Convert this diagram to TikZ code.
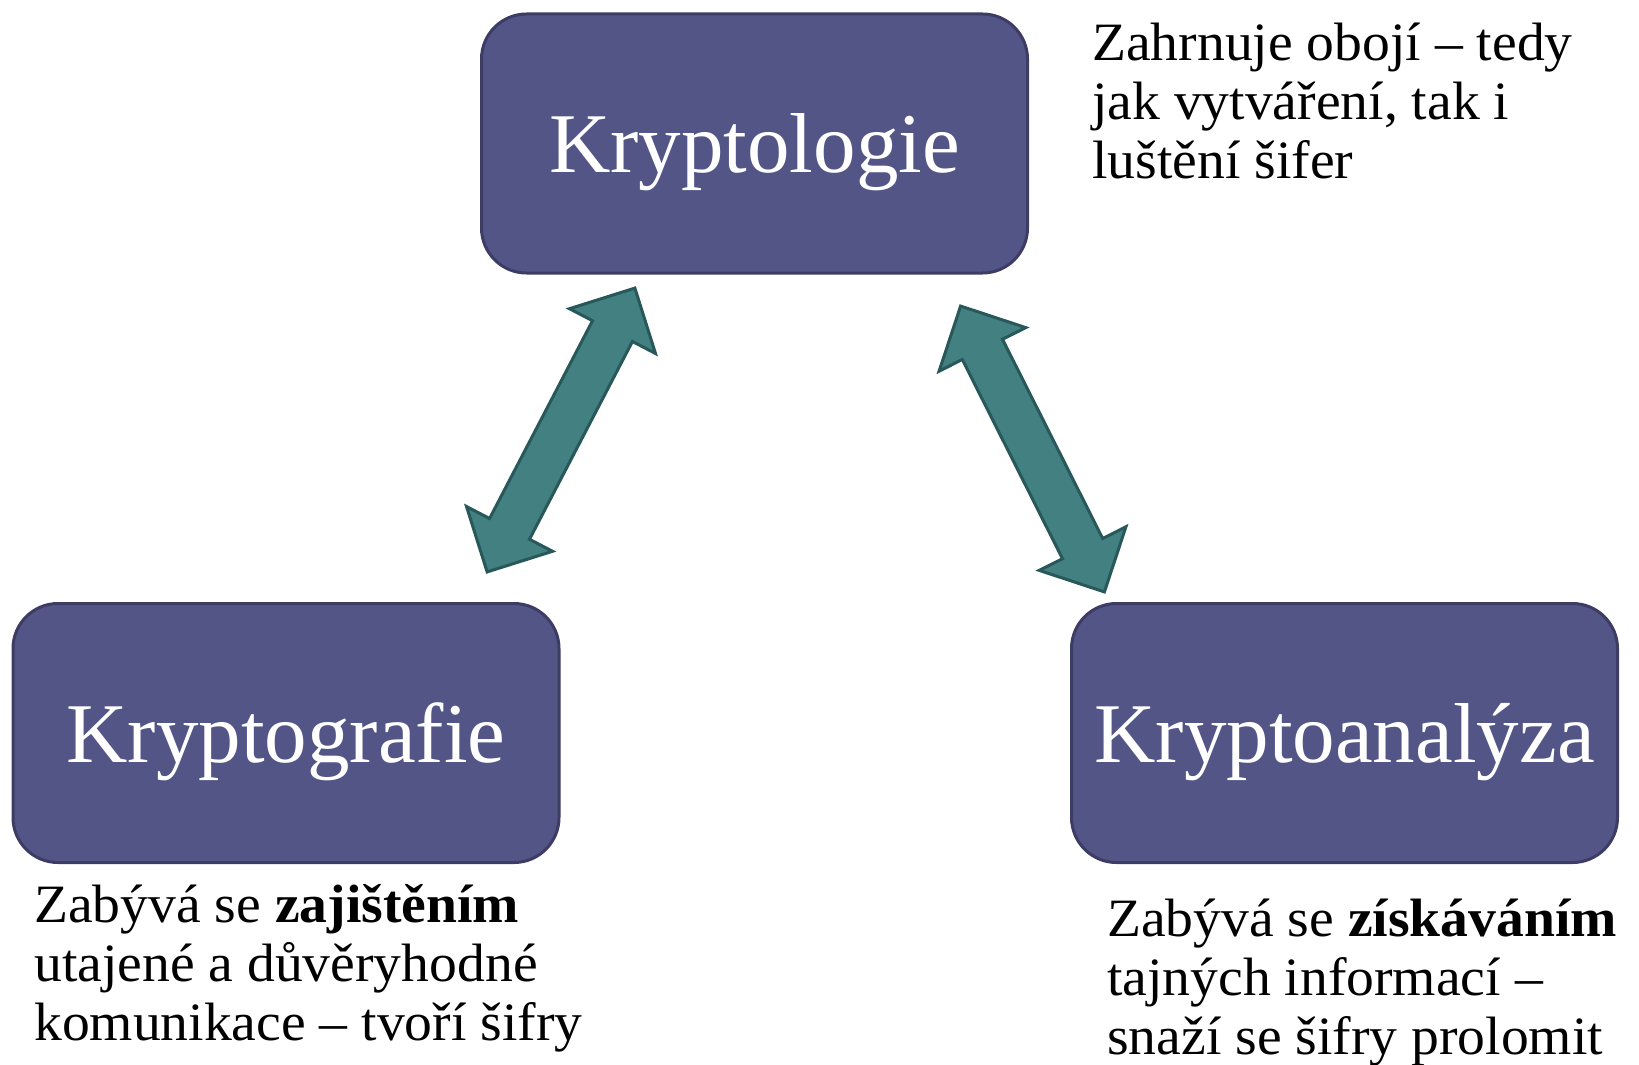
\documentclass[tikz,border=0pt]{standalone}
\usepackage{fontspec}
\setmainfont{Liberation Serif}
\newfontfamily\notefont[FakeStretch=1.03]{Liberation Serif}
\usetikzlibrary{shapes.arrows}
\usetikzlibrary{calc}

\definecolor{boxblue}{RGB}{83,85,135}
\definecolor{boxedge}{RGB}{60,60,100}
\definecolor{arrowteal}{RGB}{66,128,130}
\definecolor{arrowedge}{RGB}{40,88,90}

\begin{document}
\begin{tikzpicture}[x=1pt,y=1pt]
	\useasboundingbox (0,0) rectangle (1639,-1065);
	\begin{scope}[every node/.style = {draw=boxedge, fill=boxblue, line width=3pt,
			rounded corners=45pt, minimum width=546pt, minimum height=259pt,
			text=white, text depth=0pt, font=\fontsize{85}{100}\selectfont}]
		\node (K) at (754.5,-143.5) {Kryptologie};
		\node (G) at (286,-733) {Kryptografie};
		\node (A) at (1344.5,-733) {Kryptoanalýza};
	\end{scope}
	\begin{scope}[every node/.style = {anchor=base west, align=left, inner sep=0pt,
			font=\notefont\fontsize{54}{59}\selectfont}]
		\node (tK) at (1092,-178) {Zahrnuje obojí – tedy\\jak vytváření, tak i\\luštění šifer};
		\node (tG) at (34,-1040) {Zabývá se \textbf{zajištěním}\\utajené a důvěryhodné\\komunikace – tvoří šifry};
		\node (tA) at (1107,-1054) {Zabývá se \textbf{získáváním}\\tajných informací –\\snaží se šifry prolomit};
	\end{scope}
	% ends of the two fat arrows
	\coordinate (g1) at (487,-572);
	\coordinate (g2) at (635,-288);
	\coordinate (a1) at (960,-305);
	\coordinate (a2) at (1105,-593);
	\begin{scope}[every node/.style = {double arrow, draw=arrowedge, fill=arrowteal,
			line width=3pt, inner sep=21pt, minimum width=94pt,
			double arrow head extend=26pt, minimum height=320pt}]
		\node[rotate=62.5] (KG) at ($(g1)!.5!(g2)$) {};
		\node[rotate=-63.3] (KA) at ($(a1)!.5!(a2)$) {};
	\end{scope}
\end{tikzpicture}
\end{document}
